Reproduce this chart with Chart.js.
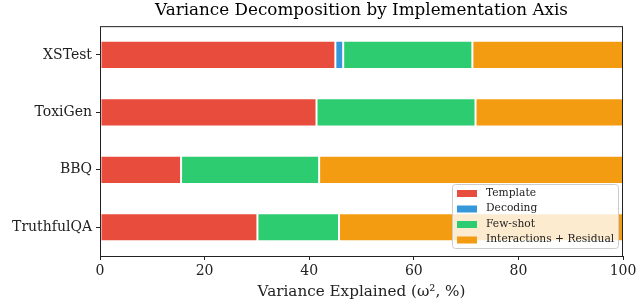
<!DOCTYPE html>
<html>
<head>
<meta charset="utf-8">
<script src="https://cdn.jsdelivr.net/npm/chart.js@4.4.1/dist/chart.umd.min.js"></script>
<style>
  html, body { margin: 0; padding: 0; background: #fff; }
  #wrap { width: 636px; height: 303px; }
</style>
</head>
<body>
<div id="wrap"><canvas id="chart" width="636" height="303"></canvas></div>
<script>
// ── Data ──────────────────────────────────────────────
const BENCHMARKS = ['XSTest', 'ToxiGen', 'BBQ', 'TruthfulQA'];
const TEMPLATE   = [45.0, 41.4, 15.5, 30.1];
const DECODING   = [1.5, 0, 0, 0];
const FEW_SHOT   = [24.7, 30.4, 26.4, 15.6];
const RESIDUAL   = [28.8, 28.2, 58.1, 54.3];
const X_TICKS    = [0, 20, 40, 60, 80, 100];

const FONT = "'DejaVu Serif', 'Liberation Serif', serif";
const INK = '#222';

Chart.defaults.font.family = FONT;
Chart.defaults.color = INK;

function series(label, data, color) {
  return {
    label, data,
    backgroundColor: color,
    borderColor: '#ffffff',
    borderWidth: 1,
    borderSkipped: false,
    barPercentage: 0.49,
    categoryPercentage: 1.0,
  };
}

// ── Frame + legend drawn inside the plot (matplotlib style) ──
const framePlugin = {
  id: 'frame',
  afterDatasetsDraw(chart) {
    const { ctx, chartArea: a } = chart;
    ctx.save();
    ctx.strokeStyle = INK;
    ctx.lineWidth = 1;
    ctx.strokeRect(a.left + 0.5, a.top + 0.5, a.right - a.left - 1, a.bottom - a.top);

    // legend box, lower right
    const ds = chart.data.datasets;
    const bx = 452, by = 184, bw = 166, bh = 64;
    ctx.fillStyle = 'rgba(255,255,255,0.8)';
    ctx.strokeStyle = '#cccccc';
    ctx.beginPath();
    ctx.roundRect(bx + 0.5, by + 0.5, bw, bh, 3);
    ctx.fill();
    ctx.stroke();
    ctx.font = '10.7px ' + FONT;
    ctx.textBaseline = 'middle';
    ds.forEach((d, i) => {
      const cy = by + 9 + i * 15.5;
      ctx.fillStyle = d.backgroundColor;
      ctx.fillRect(bx + 5, cy - 3, 20, 7);
      ctx.fillStyle = INK;
      ctx.fillText(d.label, bx + 34, cy);
    });
    ctx.restore();
  }
};

new Chart(document.getElementById('chart'), {
  type: 'bar',
  data: {
    labels: BENCHMARKS,
    datasets: [
      series('Template', TEMPLATE, '#e74c3c'),
      series('Decoding', DECODING, '#3498db'),
      series('Few-shot', FEW_SHOT, '#2ecc71'),
      series('Interactions + Residual', RESIDUAL, '#f39c12'),
    ]
  },
  options: {
    indexAxis: 'y',
    responsive: false,
    animation: false,
    devicePixelRatio: 1,
    layout: { padding: { left: 0, right: 13, top: 0, bottom: 0 } },
    plugins: {
      legend: { display: false },
      tooltip: { enabled: false },
      title: {
        display: true,
        fullSize: false,
        text: 'Variance Decomposition by Implementation Axis',
        color: '#000',
        font: { size: 16.8, weight: 'normal' },
        padding: { top: 1, bottom: 5 }
      }
    },
    scales: {
      x: {
        stacked: true,
        min: 0, max: 100,
        afterBuildTicks: s => { s.ticks = X_TICKS.map(v => ({ value: v })); },
        afterFit: s => { s.height = 47; s.paddingLeft = 0; s.paddingRight = 0; },
        grid: { drawOnChartArea: false, drawTicks: true, tickLength: 4, tickColor: INK },
        border: { display: false },
        ticks: { color: INK, font: { size: 14 }, padding: 3, maxRotation: 0 },
        title: {
          display: true,
          text: 'Variance Explained (ω², %)',
          color: INK,
          font: { size: 15.2 },
          padding: { top: 0, bottom: 2 }
        }
      },
      y: {
        stacked: true,
        afterFit: s => { s.width = 100; s.paddingTop = 0; s.paddingBottom = 0; },
        grid: { offset: false, drawOnChartArea: false, drawTicks: true, tickLength: 4, tickColor: INK },
        border: { display: false },
        ticks: { color: INK, font: { size: 14 }, padding: 4 }
      }
    }
  },
  plugins: [framePlugin]
});
</script>
</body>
</html>
